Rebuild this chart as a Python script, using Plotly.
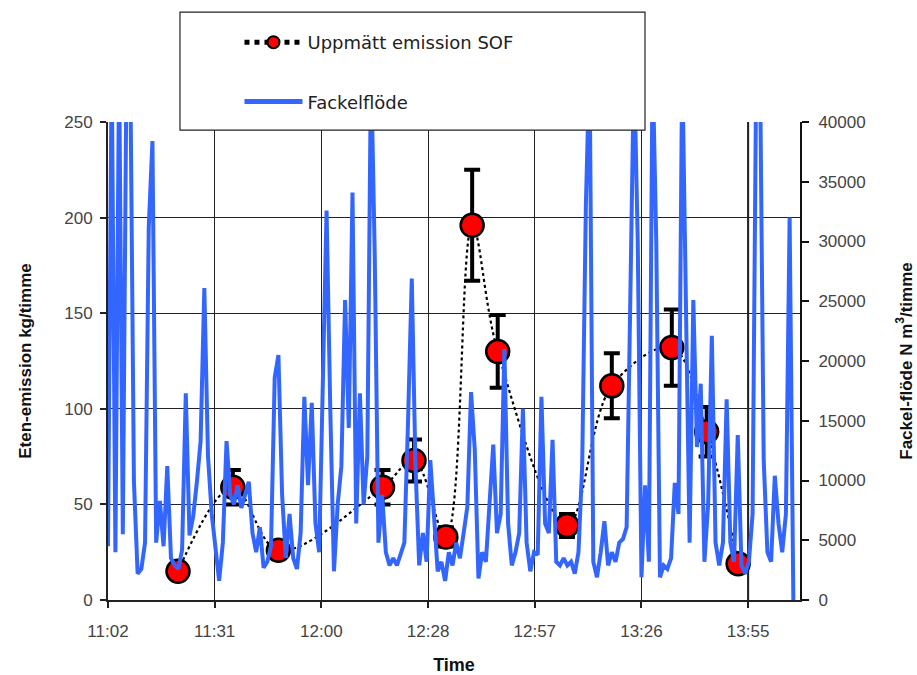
import plotly.graph_objects as go
import pandas as pd

# ---- data -------------------------------------------------------------
flow_start = "2000-01-01 11:02:24"
# Fackelflöde, N m3/timme, one reading per minute
flow_values = [
    4500, 45000, 4000, 45000, 5500, 45000, 45000, 9900, 2200, 2600,
    4800, 31200, 38400, 4800, 8300, 4500, 11200, 3500, 2900, 2600,
    4200, 17300, 5400, 7000, 9900, 13300, 26100, 12000, 7200, 4000,
    1600, 4800, 13300, 8800, 8000, 9600, 7700, 8800, 9900, 5600,
    4000, 6100, 2700, 3200, 4500, 18600, 20500, 8800, 3500, 7200,
    3500, 2600, 5600, 17000, 9600, 16500, 6400, 4000, 19800, 32600,
    16000, 2400, 8000, 11200, 25100, 14400, 34100, 6400, 17300, 8000,
    12000, 45000, 29000, 4800, 8800, 4000, 2900, 3500, 2900, 3800,
    4800, 15000, 26900, 11200, 2900, 5600, 3200, 11700, 7200, 2400,
    3200, 1600, 4000, 2900, 4800, 3500, 5600, 7800, 17400, 12600,
    1800, 4000, 3200, 8000, 13000, 5600, 7200, 21000, 6400, 2900,
    4000, 5600, 16000, 4800, 2400, 4000, 3800, 17000, 6400, 5600,
    13400, 3200, 2900, 3500, 2900, 3200, 2200, 4000, 11200, 33100,
    45000, 3200, 1900, 4000, 6600, 2900, 4000, 3200, 4800, 5100,
    6100, 25300, 45000, 30000, 1900, 9600, 3200, 45000, 30000, 1900,
    2900, 2600, 3500, 9800, 7200, 45000, 24000, 4800, 25100, 12800,
    18100, 3200, 8000, 22100, 4800, 2900, 4800, 16800, 4800, 3200,
    13800, 2900, 2200, 3200, 7200, 45000, 45000, 11700, 4000, 3200,
    10400, 6400, 4000, 7200, 32000, 0,
]
flow_times = pd.date_range(flow_start, periods=len(flow_values), freq="1min")

# Uppmätt emission SOF, kg/timme
emis_times = ["11:21:18", "11:36:06", "11:48:24", "12:16:30", "12:25:00",
              "12:33:36", "12:40:42", "12:47:36", "13:06:18", "13:18:24",
              "13:34:36", "13:44:00", "13:52:30"]
emis_values = [15, 59, 26, 59, 73, 33, 196, 130, 39, 112, 132, 88, 19]
emis_errors = [2, 9, 4, 9, 11, 5, 29, 19, 6, 17, 20, 13, 3]

tick_times = ["11:02:24", "11:31:12", "12:00:00", "12:28:48",
              "12:57:36", "13:26:24", "13:55:12"]
tick_labels = ["11:02", "11:31", "12:00", "12:28", "12:57", "13:26", "13:55"]
x_range = ["11:02:24", "14:09:12"]

day = "2000-01-01 "

# ---- figure -----------------------------------------------------------
fig = go.Figure()

fig.add_trace(go.Scatter(
    x=[day + t for t in emis_times], y=emis_values,
    name="Uppmätt emission SOF", legendgroup="a",
    mode="lines+markers",
    line=dict(color="black", width=2.2, dash="dot", shape="spline", smoothing=1),
    marker=dict(size=23, color="#ff0000", line=dict(color="black", width=2.5)),
    error_y=dict(type="data", array=emis_errors, visible=True,
                 color="black", thickness=4, width=8),
    yaxis="y",
))

fig.add_trace(go.Scatter(
    x=flow_times, y=flow_values,
    name="Fackelflöde", legendgroup="b",
    mode="lines",
    line=dict(color="#3366ff", width=4),
    yaxis="y2",
))

tick_font = dict(family="Liberation Sans, Arial, sans-serif", size=17, color="#444")
title_font = dict(family="Liberation Sans, Arial, sans-serif", size=17, color="#111")

fig.update_layout(
    width=917, height=675,
    margin=dict(l=108, r=117, t=122, b=75),
    paper_bgcolor="white", plot_bgcolor="white",
    showlegend=True,
    xaxis=dict(
        type="date", range=[day + x_range[0], day + x_range[1]],
        tickmode="array", tickvals=[day + t for t in tick_times], ticktext=tick_labels,
        showgrid=True, gridcolor="#222", gridwidth=1,
        showline=True, linecolor="#222", linewidth=2,
        ticks="outside", ticklen=6, tickcolor="#222", tickwidth=1.5,
        tickfont=tick_font, zeroline=False, ticklabelstandoff=9, automargin=False,
        title=dict(text="<b>Time</b>", font=dict(family="Liberation Sans, Arial, sans-serif", size=18, color="#111"), standoff=22),
    ),
    yaxis=dict(
        range=[0, 250], dtick=50, tick0=0,
        showgrid=True, gridcolor="#222", gridwidth=1,
        showline=True, linecolor="#222", linewidth=2,
        ticks="outside", ticklen=6, tickcolor="#222", tickwidth=1.5,
        tickfont=tick_font, zeroline=False, ticklabelstandoff=4, automargin=False,
        title=dict(text="<b>Eten-emission kg/timme</b>", font=title_font, standoff=28),
    ),
    yaxis2=dict(
        overlaying="y", side="right", anchor="x",
        range=[0, 40000], dtick=5000, tick0=0, tickformat="d",
        showgrid=False,
        showline=True, linecolor="#111", linewidth=2,
        ticks="outside", ticklen=7, tickcolor="#111", tickwidth=2,
        tickfont=tick_font, zeroline=False, ticklabelstandoff=6, automargin=False,
        title=dict(text="<b>Fackel-flöde N m<sup>3</sup>/timme</b>", font=title_font, standoff=35),
    ),
    legend=dict(
        x=0.19, y=1.205, xanchor="left", yanchor="top",
        bgcolor="rgba(0,0,0,0)", borderwidth=0,
        font=dict(family="DejaVu Sans, sans-serif", size=18, color="#222"),
        itemwidth=58, tracegroupgap=33, itemsizing="constant",
        traceorder="grouped",
    ),
    shapes=[
        dict(type="line", xref="x", yref="paper",
             x0=day + tick_times[-1], x1=day + tick_times[-1], y0=0, y1=1,
             line=dict(color="#111", width=2), layer="below"),
        dict(type="rect", xref="paper", yref="paper",
             x0=0.104, x1=0.776, y0=0.983, y1=1.230,
             line=dict(color="#222", width=1.2), fillcolor="white", layer="above"),
    ],
)

fig.write_html("out.html")
